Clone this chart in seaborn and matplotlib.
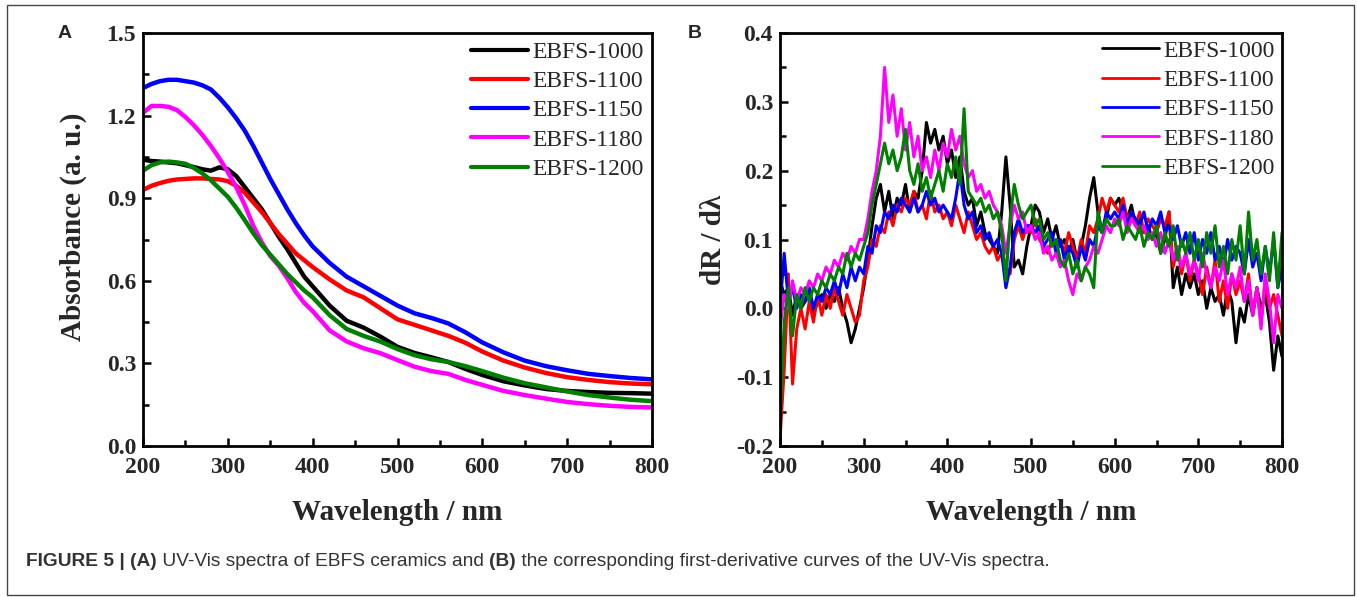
import numpy as np
import pandas as pd
import matplotlib
matplotlib.use("Agg")
import matplotlib.pyplot as plt
import seaborn as sns
from matplotlib.patches import Rectangle
from matplotlib.ticker import MultipleLocator, FormatStrFormatter

# ---------------- data ----------------
samples = ["EBFS-1000", "EBFS-1100", "EBFS-1150", "EBFS-1180", "EBFS-1200"]
colors = ["#000000", "#ff0000", "#0000ff", "#ff00ff", "#008000"]

# panel A: UV-Vis absorbance
wl_a = [200, 210, 220, 230, 240, 250, 260, 270, 280, 290, 300, 310, 320, 330, 340,
        350, 360, 370, 380, 390, 400, 420, 440, 460, 480, 500, 520, 540, 560, 580,
        600, 625, 650, 675, 700, 725, 750, 775, 800]
abs_1000 = [1.04, 1.035, 1.033, 1.03, 1.027, 1.02, 1.013, 1.005, 1.0, 1.012, 1.005, 0.98,
            0.94, 0.90, 0.86, 0.81, 0.76, 0.715, 0.665, 0.615, 0.58, 0.51, 0.455, 0.43,
            0.397, 0.36, 0.338, 0.322, 0.305, 0.28, 0.258, 0.235, 0.22, 0.207, 0.20,
            0.196, 0.193, 0.192, 0.19]
abs_1100 = [0.93, 0.945, 0.955, 0.963, 0.968, 0.97, 0.972, 0.972, 0.97, 0.968, 0.962,
            0.945, 0.92, 0.885, 0.85, 0.81, 0.77, 0.735, 0.70, 0.675, 0.65, 0.605, 0.565,
            0.54, 0.50, 0.46, 0.44, 0.42, 0.40, 0.375, 0.343, 0.31, 0.285, 0.265, 0.25,
            0.24, 0.232, 0.227, 0.224]
abs_1150 = [1.30, 1.315, 1.325, 1.33, 1.33, 1.325, 1.32, 1.31, 1.295, 1.265, 1.23, 1.19,
            1.145, 1.09, 1.03, 0.97, 0.915, 0.86, 0.81, 0.765, 0.725, 0.665, 0.615, 0.58,
            0.545, 0.51, 0.482, 0.465, 0.445, 0.413, 0.376, 0.34, 0.31, 0.29, 0.275,
            0.262, 0.254, 0.247, 0.242]
abs_1180 = [1.21, 1.235, 1.235, 1.232, 1.22, 1.195, 1.165, 1.13, 1.09, 1.045, 0.995, 0.94,
            0.875, 0.80, 0.74, 0.69, 0.655, 0.61, 0.56, 0.52, 0.49, 0.42, 0.38, 0.355,
            0.337, 0.312, 0.288, 0.272, 0.262, 0.24, 0.222, 0.20, 0.185, 0.172, 0.16,
            0.152, 0.146, 0.142, 0.14]
abs_1200 = [1.0, 1.02, 1.03, 1.033, 1.03, 1.025, 1.01, 0.99, 0.965, 0.935, 0.905, 0.865,
            0.82, 0.773, 0.73, 0.695, 0.66, 0.625, 0.595, 0.565, 0.54, 0.475, 0.425, 0.40,
            0.379, 0.352, 0.33, 0.315, 0.305, 0.29, 0.272, 0.248, 0.228, 0.213, 0.198,
            0.185, 0.176, 0.168, 0.163]

# panel B: first derivative, every 5 nm from 200 to 800
wl_b = list(range(200, 805, 5))
der_1000 = [0.04, 0.02, 0.03, -0.01, 0.02, 0.00, 0.01, 0.02, -0.01, 0.01,
            0.02, 0.00, 0.02, 0.01, 0.03, 0.00, -0.02, -0.05, -0.03, 0.00,
            0.03, 0.07, 0.12, 0.16, 0.18, 0.14, 0.17, 0.13, 0.16, 0.15,
            0.18, 0.14, 0.17, 0.16, 0.20, 0.27, 0.24, 0.26, 0.23, 0.25,
            0.21, 0.23, 0.19, 0.22, 0.17, 0.15, 0.16, 0.12, 0.14, 0.11,
            0.10, 0.09, 0.08, 0.14, 0.22, 0.15, 0.06, 0.07, 0.05, 0.09,
            0.12, 0.15, 0.14, 0.11, 0.13, 0.10, 0.12, 0.09, 0.10, 0.08,
            0.10, 0.07, 0.09, 0.12, 0.16, 0.19, 0.14, 0.11, 0.13, 0.16,
            0.15, 0.16, 0.14, 0.13, 0.15, 0.12, 0.13, 0.11, 0.12, 0.10,
            0.11, 0.08, 0.10, 0.14, 0.03, 0.06, 0.02, 0.05, 0.03, 0.05,
            0.02, 0.04, 0.00, 0.03, 0.01, 0.02, -0.01, 0.03, 0.01, -0.05,
            0.00, -0.02, 0.02, -0.01, 0.03, 0.00, 0.02, -0.02, -0.09, -0.04,
            -0.07]
der_1100 = [-0.19, -0.09, 0.05, -0.11, -0.03, 0.00, -0.03, 0.01, -0.02, 0.02,
            -0.01, 0.02, 0.00, 0.03, 0.01, -0.01, 0.02, 0.00, -0.02, -0.01,
            0.04, 0.06, 0.10, 0.09, 0.12, 0.11, 0.14, 0.12, 0.15, 0.14,
            0.16, 0.15, 0.17, 0.14, 0.15, 0.13, 0.17, 0.14, 0.15, 0.13,
            0.14, 0.12, 0.15, 0.13, 0.11, 0.14, 0.12, 0.10, 0.11, 0.09,
            0.08, 0.09, 0.07, 0.08, 0.06, 0.05, 0.10, 0.12, 0.10, 0.12,
            0.11, 0.13, 0.10, 0.09, 0.08, 0.10, 0.09, 0.10, 0.08, 0.11,
            0.09, 0.07, 0.10, 0.08, 0.12, 0.11, 0.13, 0.16, 0.14, 0.16,
            0.15, 0.14, 0.16, 0.13, 0.14, 0.12, 0.14, 0.11, 0.13, 0.12,
            0.11, 0.13, 0.12, 0.14, 0.06, 0.09, 0.05, 0.08, 0.04, 0.07,
            0.05, 0.02, 0.06, 0.03, 0.07, 0.01, 0.04, 0.00, 0.05, 0.02,
            0.04, 0.01, 0.05, -0.01, 0.03, -0.02, 0.04, 0.00, 0.02, -0.01,
            -0.04]
der_1150 = [0.00, 0.08, 0.01, 0.03, 0.00, 0.02, 0.01, 0.03, 0.00, 0.02,
            0.01, 0.03, 0.02, 0.04, 0.02, 0.05, 0.03, 0.06, 0.04, 0.06,
            0.05, 0.09, 0.08, 0.12, 0.11, 0.14, 0.13, 0.15, 0.14, 0.16,
            0.15, 0.14, 0.16, 0.14, 0.15, 0.17, 0.15, 0.16, 0.14, 0.15,
            0.14, 0.13, 0.16, 0.20, 0.15, 0.13, 0.14, 0.11, 0.12, 0.10,
            0.11, 0.09, 0.10, 0.08, 0.03, 0.06, 0.11, 0.13, 0.11, 0.12,
            0.12, 0.11, 0.12, 0.09, 0.10, 0.11, 0.08, 0.10, 0.07, 0.09,
            0.08, 0.06, 0.09, 0.07, 0.10, 0.09, 0.12, 0.11, 0.14, 0.13,
            0.14, 0.13, 0.15, 0.12, 0.14, 0.13, 0.12, 0.14, 0.11, 0.13,
            0.12, 0.14, 0.11, 0.12, 0.10, 0.12, 0.09, 0.11, 0.08, 0.11,
            0.07, 0.10, 0.08, 0.11, 0.07, 0.09, 0.06, 0.10, 0.07, 0.09,
            0.08, 0.05, 0.10, 0.06, 0.08, 0.04, 0.09, 0.05, 0.10, 0.03,
            0.06]
der_1180 = [-0.03, 0.02, 0.00, 0.04, 0.01, 0.03, 0.02, 0.04, 0.03, 0.05,
            0.04, 0.06, 0.05, 0.07, 0.06, 0.08, 0.07, 0.09, 0.08, 0.10,
            0.10, 0.13, 0.17, 0.20, 0.25, 0.35, 0.27, 0.31, 0.25, 0.29,
            0.23, 0.27, 0.22, 0.25, 0.20, 0.22, 0.19, 0.23, 0.20, 0.24,
            0.22, 0.26, 0.23, 0.25, 0.21, 0.19, 0.20, 0.17, 0.18, 0.16,
            0.17, 0.15, 0.14, 0.12, 0.08, 0.12, 0.15, 0.13, 0.14, 0.11,
            0.12, 0.10, 0.11, 0.08, 0.09, 0.07, 0.08, 0.06, 0.07, 0.04,
            0.02, 0.05, 0.04, 0.06, 0.07, 0.09, 0.08, 0.10, 0.12, 0.11,
            0.13, 0.12, 0.14, 0.11, 0.13, 0.12, 0.11, 0.12, 0.10, 0.11,
            0.09, 0.11, 0.08, 0.10, 0.07, 0.09, 0.06, 0.08, 0.05, 0.07,
            0.04, 0.08, 0.05, 0.03, 0.06, 0.04, 0.07, 0.02, 0.05, 0.03,
            0.06, 0.01, 0.04, -0.01, 0.03, -0.03, 0.05, 0.01, -0.05, 0.02,
            0.00]
der_1200 = [-0.17, -0.02, 0.03, -0.04, 0.02, 0.00, 0.03, 0.01, 0.03, 0.02,
            0.04, 0.03, 0.05, 0.04, 0.06, 0.05, 0.08, 0.06, 0.08, 0.07,
            0.09, 0.11, 0.15, 0.18, 0.21, 0.24, 0.21, 0.23, 0.20, 0.22,
            0.26, 0.20, 0.18, 0.21, 0.17, 0.19, 0.16, 0.18, 0.20, 0.17,
            0.21, 0.19, 0.22, 0.18, 0.29, 0.17, 0.16, 0.15, 0.16, 0.14,
            0.15, 0.13, 0.14, 0.11, 0.04, 0.13, 0.18, 0.15, 0.13, 0.14,
            0.15, 0.12, 0.13, 0.10, 0.11, 0.09, 0.10, 0.07, 0.06, 0.08,
            0.05, 0.07, 0.04, 0.06, 0.05, 0.03, 0.14, 0.11, 0.13, 0.12,
            0.12, 0.13, 0.10, 0.12, 0.11, 0.10, 0.12, 0.09, 0.11, 0.10,
            0.12, 0.08, 0.11, 0.09, 0.12, 0.07, 0.10, 0.08, 0.11, 0.07,
            0.10, 0.06, 0.11, 0.08, 0.12, 0.06, 0.09, 0.05, 0.10, 0.07,
            0.12, 0.05, 0.14, 0.07, 0.10, 0.05, 0.09, 0.04, 0.11, 0.03,
            0.11]

abs_series = [abs_1000, abs_1100, abs_1150, abs_1180, abs_1200]
der_series = [der_1000, der_1100, der_1150, der_1180, der_1200]

df_a = pd.concat([pd.DataFrame({"wl": wl_a, "val": v, "sample": s})
                  for s, v in zip(samples, abs_series)])
df_b = pd.concat([pd.DataFrame({"wl": wl_b, "val": v, "sample": s})
                  for s, v in zip(samples, der_series)])

# ---------------- style ----------------
sns.set_style("ticks")
plt.rcParams["font.family"] = ["Liberation Serif", "DejaVu Serif"]
plt.rcParams["axes.unicode_minus"] = False

SERIF = "Liberation Serif"
SANS = "Liberation Sans"
W, H = 1357, 597

fig = plt.figure(figsize=(W / 100, H / 100), dpi=100)
ax_a = fig.add_axes([143 / W, 1 - 446 / H, 509 / W, 413 / H])
ax_b = fig.add_axes([780 / W, 1 - 446 / H, 502 / W, 413 / H])

palette = dict(zip(samples, colors))


def style_axes(ax, ylim, ymajor, yminor, ylabel, ylab_xy):
    ax.set_xlim(200, 800)
    ax.set_ylim(*ylim)
    ax.xaxis.set_major_locator(MultipleLocator(100))
    ax.xaxis.set_minor_locator(MultipleLocator(50))
    ax.yaxis.set_major_locator(MultipleLocator(ymajor))
    ax.yaxis.set_minor_locator(MultipleLocator(yminor))
    ax.yaxis.set_major_formatter(FormatStrFormatter("%.1f"))
    ax.tick_params(which="both", direction="in", top=False, right=False,
                   width=1.8, color="black")
    ax.tick_params(axis="x", which="major", length=6, pad=8)
    ax.tick_params(axis="y", which="major", length=6, pad=5)
    ax.tick_params(which="minor", length=4)
    for sp in ax.spines.values():
        sp.set_linewidth(2.0)
        sp.set_color("black")
    for lab in ax.get_xticklabels() + ax.get_yticklabels():
        lab.set_fontfamily(SERIF)
        lab.set_fontweight("bold")
        lab.set_fontsize(17)
    ax.set_xlabel("Wavelength / nm", fontfamily=SERIF, fontweight="bold", fontsize=21)
    ax.xaxis.set_label_coords(0.5, -0.128)
    ax.set_ylabel(ylabel, fontfamily=SERIF, fontweight="bold", fontsize=21)
    ax.yaxis.set_label_coords(*ylab_xy)


# panel A
sns.lineplot(data=df_a, x="wl", y="val", hue="sample", hue_order=samples,
             palette=palette, estimator=None, linewidth=3.2, ax=ax_a)
style_axes(ax_a, (0, 1.5), 0.3, 0.15, "Absorbance (a. u.)", (-0.11, 0.53))

# panel B
sns.lineplot(data=df_b, x="wl", y="val", hue="sample", hue_order=samples,
             palette=palette, estimator=None, linewidth=2.2, ax=ax_b)
style_axes(ax_b, (-0.2, 0.4), 0.1, 0.05, "dR / d\u03bb", (-0.106, 0.5))

for ax, lw, bap, bp in [(ax_a, 3.0, 0.15, 0.2), (ax_b, 2.0, 0.0, 0.3)]:
    handles, labels = ax.get_legend_handles_labels()
    leg = ax.legend(handles, labels, loc="upper right", frameon=False,
                    prop={"family": SERIF, "size": 17},
                    handlelength=2.4, handletextpad=0.2, labelspacing=0.33,
                    borderaxespad=bap, borderpad=bp)
    for h in leg.get_lines():
        h.set_linewidth(lw)

# panel letters
fig.text(65 / W, 1 - 33 / H, "A", fontfamily=SANS, fontweight="bold",
         fontsize=14, ha="center", va="center")
fig.text(695 / W, 1 - 33 / H, "B", fontfamily=SANS, fontweight="bold",
         fontsize=14, ha="center", va="center")

# outer frame
fig.add_artist(Rectangle((7 / W, 2 / H), 1347 / W, 590 / H, transform=fig.transFigure,
                         fill=False, edgecolor="#444444", linewidth=1.0))

# caption with bold pieces
pieces = [("FIGURE 5 | ", "bold"), ("(A)", "bold"),
          (" UV-Vis spectra of EBFS ceramics and ", "normal"), ("(B)", "bold"),
          (" the corresponding first-derivative curves of the UV-Vis spectra.", "normal")]
txt = fig.text(26 / W, 1 - 566 / H, pieces[0][0], fontfamily=SANS,
               fontweight=pieces[0][1], fontsize=13.75, color="#333333", va="baseline")
for s, wgt in pieces[1:]:
    txt = ax_a.annotate(s, xy=(1, 0), xycoords=txt, va="bottom", ha="left",
                        fontfamily=SANS, fontweight=wgt, fontsize=13.75,
                        color="#333333", annotation_clip=False)

fig.savefig("out.png", dpi=100)
